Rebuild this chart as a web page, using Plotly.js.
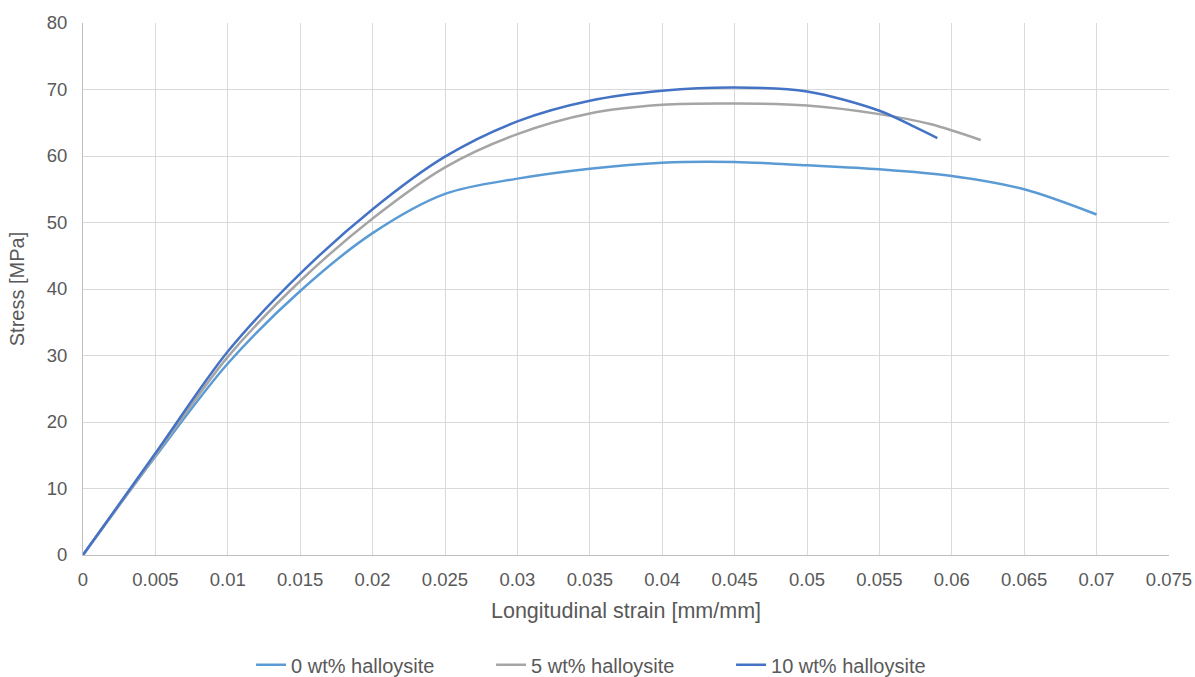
<!DOCTYPE html>
<html>
<head>
<meta charset="utf-8">
<script src="https://cdn.plot.ly/plotly-3.0.1.min.js"></script>
<style>html,body{margin:0;padding:0;background:#fff;}#chart{width:1195px;height:677px;}</style>
</head>
<body>
<div id="chart"></div>
<script>
const seriesNames = ["0 wt% halloysite", "5 wt% halloysite", "10 wt% halloysite"];

const strain0 = [0, 0.005, 0.01, 0.015, 0.02, 0.025, 0.03, 0.035, 0.04, 0.045, 0.05, 0.055, 0.06, 0.065, 0.07];
const stress0 = [0, 14.8, 28.8, 39.7, 48.4, 54.3, 56.6, 58.1, 59.0, 59.1, 58.6, 58.0, 57.0, 55.0, 51.2];

const strain5 = [0, 0.005, 0.01, 0.015, 0.02, 0.025, 0.03, 0.035, 0.04, 0.045, 0.05, 0.055, 0.0585, 0.062];
const stress5 = [0, 15.0, 29.8, 41.2, 50.6, 58.3, 63.3, 66.4, 67.7, 67.9, 67.6, 66.3, 64.8, 62.4];

const strain10 = [0, 0.005, 0.01, 0.015, 0.02, 0.025, 0.03, 0.035, 0.04, 0.045, 0.05, 0.055, 0.0575, 0.059];
const stress10 = [0, 15.3, 30.6, 42.3, 52.0, 59.9, 65.2, 68.3, 69.8, 70.3, 69.7, 66.8, 64.3, 62.7];

const colors = ["#5B9BD5", "#A5A5A5", "#4472C4"];

const xs = [strain0, strain5, strain10];
const ys = [stress0, stress5, stress10];

const traces = seriesNames.map((n, i) => ({
  x: xs[i], y: ys[i], name: n, type: "scatter", mode: "lines",
  line: {color: colors[i], width: 2.5, shape: "spline", smoothing: 0.9}
}));

const fam = "Liberation Sans, Arial, sans-serif";
const grey = "#595959";

const layout = {
  width: 1195, height: 677,
  margin: {l: 83, r: 26, t: 23, b: 122, autoexpand: false},
  paper_bgcolor: "#fff", plot_bgcolor: "#fff",
  font: {family: fam, color: grey, size: 18},
  showlegend: true,
  legend: {orientation: "h", x: 0.2101, xanchor: "left", xref: "container",
           y: 0.018, yanchor: "middle", yref: "container",
           entrywidth: 195, entrywidthmode: "pixels",
           font: {family: fam, color: grey, size: 20}, itemwidth: 30, tracegroupgap: 0},
  xaxis: {
    range: [0, 0.075], dtick: 0.005, tick0: 0,
    showgrid: true, gridcolor: "#D9D9D9", gridwidth: 1,
    zeroline: false, showline: true, linecolor: "#BFBFBF", linewidth: 1,
    ticks: "", ticklabelstandoff: 8, tickfont: {size: 18.5, color: grey},
    automargin: false,
    title: {text: "Longitudinal strain [mm/mm]", font: {size: 21.5, color: grey}, standoff: 13}
  },
  yaxis: {
    range: [0, 80], dtick: 10,
    showgrid: true, gridcolor: "#D9D9D9", gridwidth: 1,
    zeroline: false, showline: true, linecolor: "#BFBFBF", linewidth: 1,
    ticks: "", ticklabelstandoff: 11, tickfont: {size: 18.5, color: grey},
    automargin: false,
    title: {text: "Stress [MPa]", font: {size: 20, color: grey}, standoff: 16}
  }
};

Plotly.newPlot("chart", traces, layout, {displayModeBar: false, staticPlot: true});
</script>
</body>
</html>
